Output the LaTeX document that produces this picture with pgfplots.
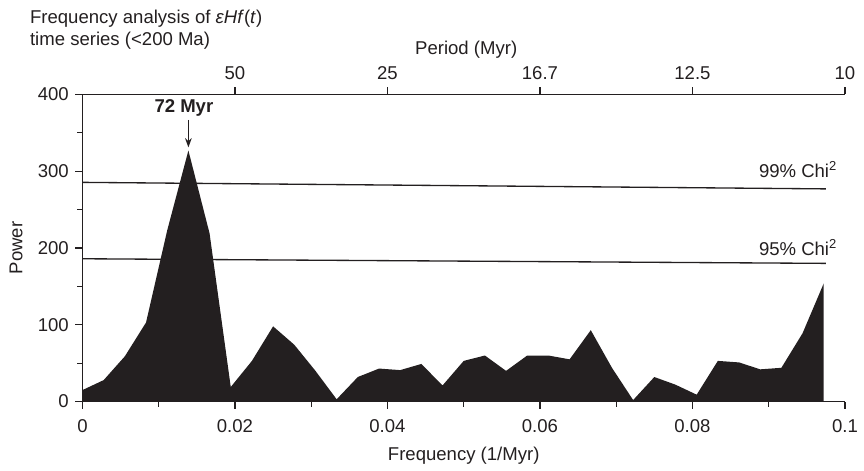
\documentclass[border=0pt]{standalone}
\usepackage{fontspec}
\setmainfont{Liberation Sans}
\usepackage{pgfplots}
\pgfplotsset{compat=1.18}
\usetikzlibrary{arrows.meta}
\definecolor{ink}{HTML}{231F20}
\newcommand{\fs}{\fontsize{14pt}{16.8pt}\selectfont}
\begin{document}
\fs
\begin{tikzpicture}
\begin{axis}[
  name=ax, at={(0,0)}, anchor=south west,
  scale only axis, width=575.25pt, height=231.75pt,
  xmin=0, xmax=0.1, ymin=0, ymax=400,
  axis x line*=bottom, axis y line*=left,
  axis line style={-, line width=1pt, color=ink},
  tick align=outside, tick style={line width=1pt, color=ink},
  major tick length=5.5pt, minor tick length=3.8pt,
  xtick={0,0.02,0.04,0.06,0.08,0.1},
  xticklabels={0,0.02,0.04,0.06,0.08,0.1},
  scaled x ticks=false,
  minor x tick num=1,
  ytick={0,100,200,300,400}, minor y tick num=1,
  /pgf/number format/assume math mode=true,
  tick label style={font=\fs, color=ink},
  xticklabel style={yshift=-3pt},
  label style={font=\fs, color=ink},
  xlabel={Frequency (1/Myr)},
  xlabel style={yshift=-1.5pt},
  ylabel={Power},
  ylabel style={yshift=2pt},
  clip=false,
]
\addplot[fill=ink, draw=none] coordinates {
(0,15) (0.002778,28) (0.005556,59) (0.008333,103) (0.011111,223) (0.013889,327)
(0.016667,219) (0.019444,19) (0.022222,53) (0.025,98) (0.027778,74) (0.030556,40)
(0.033333,3) (0.036111,32) (0.038889,43) (0.041667,41) (0.044444,49) (0.047222,21)
(0.05,53) (0.052778,60) (0.055556,40) (0.058333,60) (0.061111,60) (0.063889,55)
(0.066667,93) (0.069444,44) (0.072222,2) (0.075,32) (0.077778,22) (0.080556,9)
(0.083333,53) (0.086111,51) (0.088889,42) (0.091667,44) (0.094444,89) (0.097222,154)
} \closedcycle;
\addplot[ink, line width=1pt] coordinates {(0,285.5) (0.0975,277)};
\addplot[ink, line width=1pt] coordinates {(0,186) (0.0975,180)};
\node[anchor=base east, text=ink, inner sep=0pt] at (axis cs:0.099,292) {99\% Chi\textsuperscript{2}};
\node[anchor=base east, text=ink, inner sep=0pt] at (axis cs:0.099,190) {95\% Chi\textsuperscript{2}};
\node[anchor=base, text=ink, inner sep=0pt, font=\bfseries\fs] at (axis cs:0.0133,376) {72 Myr};
\draw[ink, line width=1pt, -{Stealth[length=7pt,width=5pt]}] (axis cs:0.013889,367) -- (axis cs:0.013889,331);
\end{axis}
\begin{axis}[
  at={(0,0)}, anchor=south west,
  scale only axis, width=575.25pt, height=231.75pt,
  xmin=0, xmax=0.1, ymin=0, ymax=400,
  axis x line*=top, axis y line=none,
  axis line style={-, line width=1pt, color=ink},
  tick align=outside, tick style={line width=1pt, color=ink},
  major tick length=5.5pt,
  xtick={0.02,0.04,0.06,0.08,0.1},
  xticklabels={50,25,16.7,12.5,10},
  /pgf/number format/assume math mode=true,
  tick label style={font=\fs, color=ink},
  xticklabel style={yshift=1pt},
]
\end{axis}
\node[anchor=base, text=ink, inner sep=0pt] at (289.5pt,261.75pt) {Period (Myr)};
\node[anchor=base west, text=ink, inner sep=0pt] at (-39.75pt,285pt) {Frequency analysis of \textit{εHf}(\textit{t})};
\node[anchor=base west, text=ink, inner sep=0pt] at (-39.75pt,268.5pt) {time series (<200 Ma)};
\path[use as bounding box] (-62.25pt,-50.25pt) rectangle (585.75pt,303pt);
\end{tikzpicture}
\end{document}
